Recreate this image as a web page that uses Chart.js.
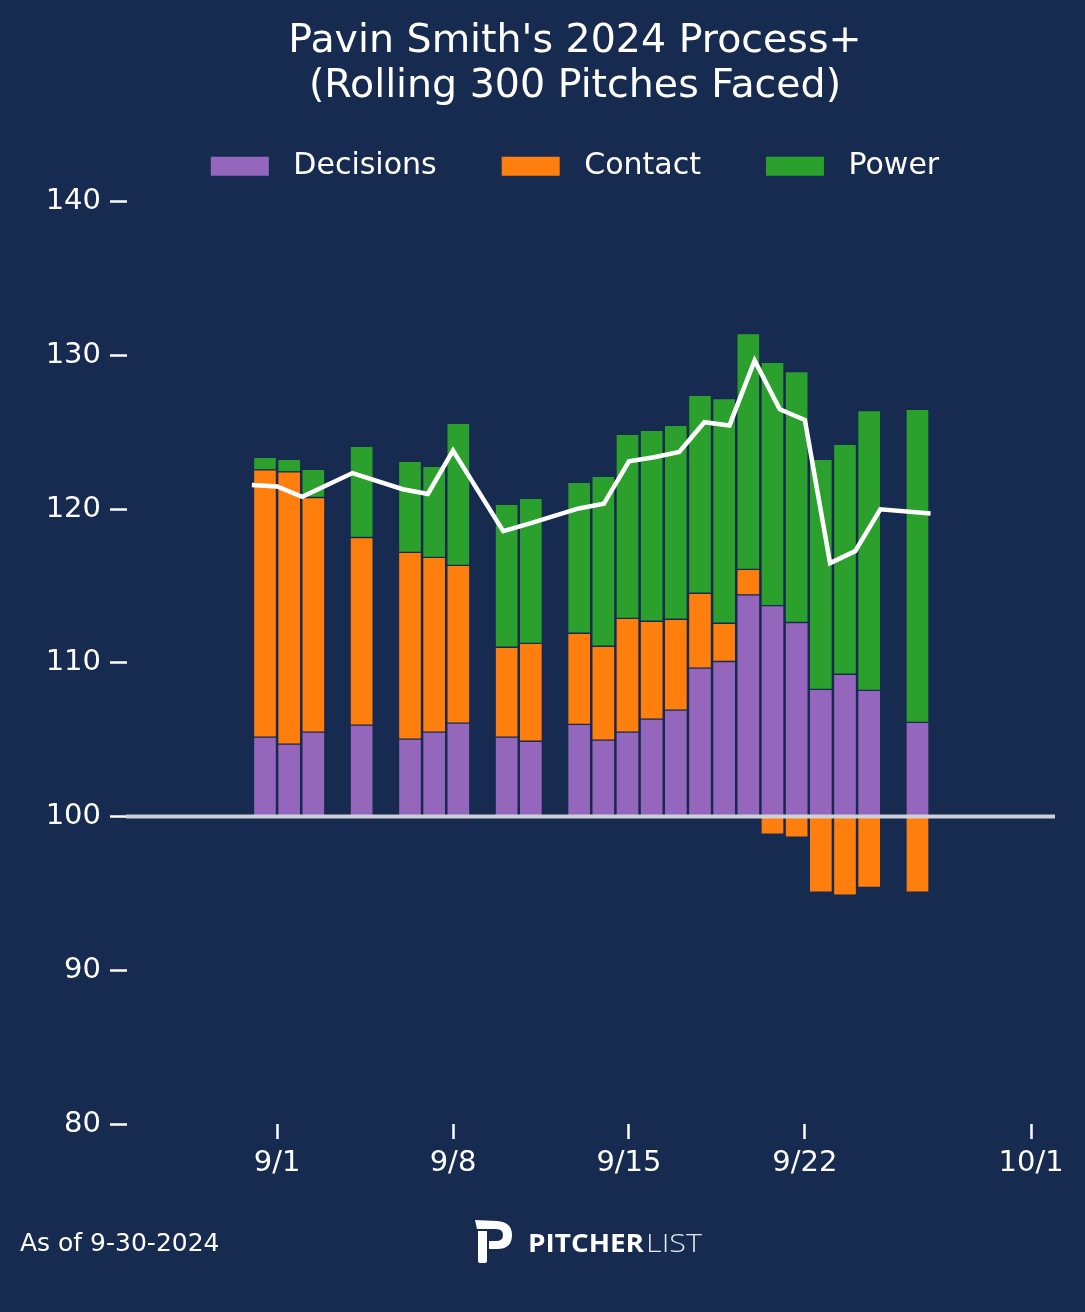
<!DOCTYPE html>
<html>
<head>
<meta charset="utf-8">
<script src="https://cdn.jsdelivr.net/npm/chart.js@4.4.1/dist/chart.umd.min.js"></script>
<style>
  html, body { margin: 0; padding: 0; background: #172a50; }
  canvas { display: block; }
</style>
</head>
<body>
<canvas id="c" width="1085" height="1312"></canvas>
<script>
// ---------------- DATA ----------------
const dates = ['2024-08-31','2024-09-01','2024-09-02','2024-09-04','2024-09-06','2024-09-07','2024-09-08',
               '2024-09-10','2024-09-11','2024-09-13','2024-09-14','2024-09-15','2024-09-16','2024-09-17',
               '2024-09-18','2024-09-19','2024-09-20','2024-09-21','2024-09-22','2024-09-23','2024-09-24',
               '2024-09-25','2024-09-27'];
const decisions = [5.17, 4.72, 5.50, 5.95, 5.04, 5.50, 6.08, 5.17, 4.90, 6.00, 4.97, 5.50, 6.34, 6.93,
                   9.66, 10.09, 14.43, 13.73, 12.63, 8.28, 9.26, 8.21, 6.13];
const contact   = [17.39, 17.71, 15.26, 12.21, 12.15, 11.36, 10.26, 5.85, 6.37, 5.93, 6.11, 7.40, 6.37, 5.91,
                   4.87, 2.49, 1.65, -1.15, -1.34, -4.92, -5.12, -4.61, -4.92];
const power     = [0.82, 0.82, 1.84, 5.93, 5.93, 5.93, 9.24, 9.30, 9.44, 9.82, 11.06, 11.97, 12.42, 12.61,
                   12.87, 14.61, 15.35, 15.82, 16.33, 14.97, 14.96, 18.20, 20.36];
const processPlus = [121.57, 121.48, 120.81, 122.35, 121.30, 120.99, 123.81, 118.57, 119.05, 120.05, 120.35,
                     123.12, 123.38, 123.72, 125.66, 125.45, 129.68, 126.50, 125.80, 116.49, 117.27, 119.99, 119.72];
const tickDates  = ['2024-09-01','2024-09-08','2024-09-15','2024-09-22','2024-10-01'];
const tickLabels = ['9/1','9/8','9/15','9/22','10/1'];
const yTicks = [80, 90, 100, 110, 120, 130, 140];
const baseline = 100;
const titleLines = ["Pavin Smith's 2024 Process+", "(Rolling 300 Pitches Faced)"];
const footnote = 'As of 9-30-2024';

// ---------------- HELPERS ----------------
const ORIGIN = Date.UTC(2024, 8, 1);
const dayOf = s => (new Date(s + 'T00:00:00Z').getTime() - ORIGIN) / 86400000;
const xs = dates.map(dayOf);

const BG = '#172a50';
const FONT = "'DejaVu Sans', 'Liberation Sans', sans-serif";
Chart.defaults.font.family = FONT;
Chart.defaults.color = '#ffffff';

const barDs = (label, vals, color) => ({
  type: 'bar', label,
  data: vals.map((v, i) => ({ x: xs[i], y: v })),
  backgroundColor: color, borderColor: BG, borderWidth: 1, borderSkipped: false,
  grouped: false, barThickness: 23, maxBarThickness: 23,
  xAxisID: 'xb', yAxisID: 'yb', order: 2, stack: 's'
});

const legendSpacer = {
  id: 'legendSpacer',
  beforeLayout(chart) {
    const lg = chart.legend;
    if (lg && !lg.__spaced) {
      const f = lg.fit;
      lg.fit = function () { f.apply(this, arguments); this.height += 10.5; };
      lg.__spaced = true;
    }
  }
};

const refLine = {
  id: 'refLine',
  afterDatasetsDraw(chart) {
    const { ctx, chartArea, scales } = chart;
    const y = scales.y.getPixelForValue(baseline);
    ctx.save();
    ctx.strokeStyle = '#cdd0d6';
    ctx.lineWidth = 4;
    ctx.beginPath();
    ctx.moveTo(chartArea.left - 1, y);
    ctx.lineTo(chartArea.right, y);
    ctx.stroke();
    ctx.restore();
  }
};

const footer = {
  id: 'footer',
  afterDraw(chart) {
    const ctx = chart.ctx;
    ctx.save();
    ctx.fillStyle = '#ffffff';
    ctx.font = '25px ' + FONT;
    ctx.textBaseline = 'alphabetic';
    ctx.textAlign = 'left';
    ctx.fillText(footnote, 20, 1251);

    // logo icon
    ctx.beginPath();
    ctx.moveTo(475, 1220);
    ctx.lineTo(497, 1221);
    ctx.quadraticCurveTo(512, 1222, 512, 1235);
    ctx.quadraticCurveTo(512, 1249, 497, 1249);
    ctx.lineTo(489, 1249);
    ctx.lineTo(489, 1241);
    ctx.lineTo(496, 1241);
    ctx.quadraticCurveTo(503, 1241, 503, 1235);
    ctx.quadraticCurveTo(503, 1229, 496, 1229);
    ctx.lineTo(477, 1229);
    ctx.closePath();
    ctx.fill();
    ctx.beginPath();
    ctx.moveTo(478, 1231);
    ctx.lineTo(487, 1231);
    ctx.lineTo(487, 1261);
    ctx.quadraticCurveTo(487, 1263, 484, 1263);
    ctx.lineTo(481, 1263);
    ctx.quadraticCurveTo(478, 1263, 478, 1261);
    ctx.closePath();
    ctx.fill();

    // logo text
    const drawFit = (txt, font, x, w, color) => {
      ctx.font = font;
      ctx.fillStyle = color;
      const m = ctx.measureText(txt).width;
      ctx.save();
      ctx.translate(x, 1252);
      ctx.scale(w / m, 1);
      ctx.fillText(txt, 0, 0);
      ctx.restore();
    };
    drawFit('PITCHER', "bold 25px 'Open Sans', 'DejaVu Sans', sans-serif", 528, 116, '#ffffff');
    drawFit('LIST', "300 25px 'Open Sans', 'DejaVu Sans', sans-serif", 646, 56, '#e6e9ef');
    ctx.restore();
  }
};

new Chart(document.getElementById('c'), {
  data: {
    datasets: [
      {
        type: 'line', label: 'Process+',
        data: processPlus.map((v, i) => ({ x: xs[i], y: v })),
        borderColor: '#ffffff', borderWidth: 4.5, pointRadius: 0, tension: 0,
        borderJoinStyle: 'miter', xAxisID: 'x', yAxisID: 'y', order: 0
      },
      barDs('Decisions', decisions, '#9467bd'),
      barDs('Contact', contact, '#ff7f0e'),
      barDs('Power', power, '#2ca02c')
    ]
  },
  options: {
    responsive: false,
    animation: false,
    layout: { padding: { top: 0, left: 95, right: 30, bottom: 128 } },
    plugins: {
      tooltip: { enabled: false },
      title: {
        display: true, text: titleLines, color: '#ffffff',
        font: { size: 39.5, weight: 'normal', lineHeight: 1.139 },
        padding: { top: 18.8, bottom: -22.5 }
      },
      legend: {
        display: true,
        labels: {
          color: '#ffffff', font: { size: 30 }, boxWidth: 58, boxHeight: 19, padding: 65,
          generateLabels: (chart) => Chart.defaults.plugins.legend.labels.generateLabels(chart)
            .filter(l => l.text !== 'Process+')
            .map(l => Object.assign(l, { text: ' ' + l.text, lineWidth: 0, strokeStyle: 'rgba(0,0,0,0)' }))
        }
      }
    },
    scales: {
      x: {
        type: 'linear', position: 'bottom', min: -5.97, max: 30.95, offset: false,
        border: { display: false },
        grid: { drawOnChartArea: false, drawTicks: true, tickLength: 15, tickColor: '#ffffff', tickWidth: 2.5 },
        afterBuildTicks: (s) => { s.ticks = tickDates.map(d => ({ value: dayOf(d) })); },
        afterFit: (s) => { s.height = 60; s.paddingLeft = 0; s.paddingRight = 0; },
        ticks: { autoSkip: false, maxRotation: 0, padding: 7, color: '#ffffff', font: { size: 29 },
                 callback: (v, i) => tickLabels[i] }
      },
      xb: {
        type: 'linear', position: 'bottom', display: false, min: -6.71, max: 31.69, stacked: true, offset: false
      },
      y: {
        type: 'linear', position: 'left', min: 80, max: 140,
        border: { display: false },
        grid: { drawOnChartArea: false, drawTicks: true, tickLength: 17, tickColor: '#ffffff', tickWidth: 2.5 },
        afterBuildTicks: (s) => { s.ticks = yTicks.map(v => ({ value: v })); },
        afterFit: (s) => {
          s.width = 32; s.paddingTop = 0; s.paddingBottom = 0;
          s._computeLabelArea = () => null;   // let labels extend left of the narrow axis box
        },
        ticks: { padding: 9, color: '#ffffff', font: { size: 29 } }
      },
      yb: {
        type: 'linear', position: 'left', display: false, min: 80 - baseline, max: 140 - baseline, stacked: true
      }
    }
  },
  plugins: [legendSpacer, refLine, footer]
});
</script>
</body>
</html>
